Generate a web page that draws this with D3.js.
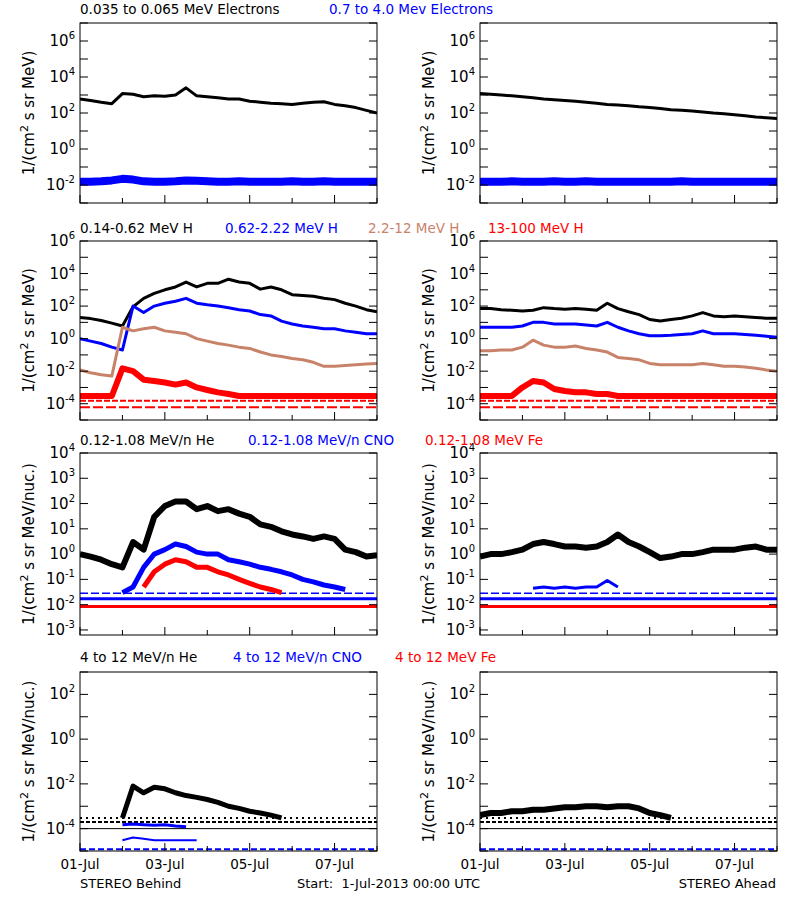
<!DOCTYPE html>
<html>
<head>
<meta charset="utf-8">
<script src="https://cdn.jsdelivr.net/npm/d3@7"></script>
<style>
  body { margin: 0; background: #fff; }
  text { font-family: "DejaVu Sans", sans-serif; }
</style>
</head>
<body>
<svg width="800" height="900"></svg>
<script>
// time axis: days since 1-Jul-2013 00:00, 6 hour steps
const DAYS = d3.range(0, 7.01, 0.25);
const DATE_TICKS = [0, 2, 4, 6];
const DATE_LABELS = ["01-Jul", "03-Jul", "05-Jul", "07-Jul"];

// row 1 electrons
const eLowB = [600,500,400,330,1200,1100,800,900,850,1000,2500,900,800,700,600,600,450,400,350,330,300,350,400,420,300,250,200,140,100];
const eHighB = [0.015,0.015,0.016,0.018,0.022,0.02,0.016,0.015,0.015,0.016,0.018,0.017,0.016,0.015,0.015,0.016,0.015,0.015,0.015,0.015,0.016,0.015,0.015,0.016,0.015,0.015,0.015,0.015,0.015];
const eLowA = [1200,1100,1000,900,800,700,600,550,500,450,400,350,300,280,250,220,200,180,150,140,130,115,100,90,80,70,60,55,50];
const eHighA = [0.015,0.015,0.015,0.016,0.015,0.015,0.015,0.016,0.015,0.015,0.016,0.015,0.015,0.015,0.015,0.015,0.015,0.015,0.015,0.016,0.015,0.015,0.015,0.015,0.015,0.015,0.015,0.015,0.015];

// row 2 protons
const h1B = [20,17,13,9,6,90,300,600,1000,1500,3000,1500,2500,2500,4500,3000,2500,1100,1500,1000,500,450,400,300,250,150,100,60,45];
const h2B = [1,0.7,0.5,0.3,0.2,100,40,100,150,200,300,150,120,100,80,60,50,30,25,12,8,6,5,4,4,3,2.5,2,2];
const h3B = [0.012,0.008,0.006,0.005,5,3,4,5,3,2.5,2,1,0.7,0.5,0.4,0.3,0.25,0.15,0.1,0.08,0.06,0.05,0.035,0.02,0.02,0.022,0.025,0.028,0.03];
const h4B = [3e-4,3e-4,3e-4,3e-4,1.5e-2,1e-2,3e-3,2.5e-3,2e-3,1.5e-3,2e-3,1e-3,7e-4,5e-4,4e-4,3e-4,3e-4,3e-4,3e-4,3e-4,3e-4,3e-4,3e-4,3e-4,3e-4,3e-4,3e-4,3e-4,3e-4];
const h1A = [70,70,60,55,50,55,80,70,65,70,65,55,150,70,45,30,15,12,15,18,25,40,25,22,25,22,20,18,18];
const h2A = [5,5,5,5,6,10,10,8,8,8,7,6,10,5,3,2,1.5,1.5,1.6,1.8,2,3,2,2,2,1.8,1.6,1.4,1.2];
const h3A = [0.18,0.18,0.2,0.2,0.3,0.8,0.4,0.3,0.3,0.35,0.25,0.2,0.15,0.07,0.06,0.05,0.03,0.025,0.025,0.025,0.025,0.03,0.025,0.02,0.02,0.018,0.015,0.012,0.01];
const h4A = [3e-4,3e-4,3e-4,3e-4,1e-3,2.5e-3,2e-3,8e-4,6e-4,5e-4,5e-4,4e-4,4e-4,3e-4,3e-4,3e-4,3e-4,3e-4,3e-4,3e-4,3e-4,3e-4,3e-4,3e-4,3e-4,3e-4,3e-4,3e-4,3e-4];
const FLOOR_H = [1.5e-4, 6e-5];

// row 3 low energy heavy ions
const heB = [1,0.8,0.6,0.4,0.3,3,1.5,30,80,120,120,60,80,50,60,40,30,15,12,8,6,5,4,5,4,1.5,1.2,0.8,0.9];
const cnoB = [null,null,null,null,0.03,0.05,0.3,1,1.5,2.5,2,1.2,1,1,0.6,0.5,0.4,0.3,0.25,0.2,0.15,0.1,0.08,0.06,0.05,0.04,null,null,null];
const feB = [null,null,null,null,null,null,0.05,0.2,0.4,0.6,0.5,0.3,0.3,0.2,0.15,0.1,0.07,0.05,0.04,0.03,null,null,null,null,null,null,null,null,null];
const heA = [0.8,1,1,1.2,1.5,2.5,3,2.5,2,2,1.8,2,3,6,3,2,1.2,0.7,0.8,1,1,1.2,1.5,1.5,1.5,1.8,2,1.5,1.5];
const cnoA = [null,null,null,null,null,0.045,0.05,0.045,0.05,0.045,0.05,0.05,0.09,0.05,null,null,null,0.05,null,null,null,null,null,null,null,null,null,null,null];
const FLOOR_HEAVY = [0.028, 0.017, 0.0085];

// row 4 high energy heavy ions
const he4B = [null,null,null,null,3e-4,8e-3,4e-3,7e-3,6e-3,4e-3,3e-3,2.5e-3,2e-3,1.5e-3,1e-3,8e-4,6e-4,5e-4,4e-4,3e-4,null,null,null,null,null,null,null,null,null];
const cno4B = [null,null,null,null,1.5e-4,1.6e-4,1.5e-4,1.4e-4,1.5e-4,1.3e-4,1.2e-4,null,null,null,null,null,null,null,null,null,null,null,null,null,null,null,null,null,null];
const cno4Blow = [null,null,null,null,3e-5,4e-5,3.5e-5,3e-5,3e-5,3e-5,3e-5,3e-5,null,null,null,null,null,null,null,null,null,null,null,null,null,null,null,null,null];
const he4A = [4e-4,5e-4,5e-4,6e-4,6e-4,7e-4,7e-4,8e-4,9e-4,9e-4,1e-3,1e-3,9e-4,1e-3,1e-3,8e-4,5e-4,4e-4,3e-4,null,null,null,null,null,null,null,null,null,null];
const FLOOR_HIGH = [3e-4, 2e-4, 1e-4, 1.2e-5];

const BROWN = "#c8826a";
const svg = d3.select("svg");
const COLS = [80, 480], PW = 297;

const ROWS = [
  { top: 23, bot: 203, dom: [1e-3, 1e7], labels: [-2, 0, 2, 4, 6], ylab: "MeV)",
    titleY: 14, titles: [["0.035 to 0.065 MeV Electrons", "#000", 80], ["0.7 to 4.0 Mev Electrons", "#00f", 329]],
    series: [[[eLowB, "#000", 3], [eHighB, "#00f", 8]], [[eLowA, "#000", 3], [eHighA, "#00f", 8]]], floors: [] },
  { top: 241, bot: 420, dom: [1e-5, 1e6], labels: [-4, -2, 0, 2, 4, 6], ylab: "MeV)",
    titleY: 233, titles: [["0.14-0.62 MeV H", "#000", 80], ["0.62-2.22 MeV H", "#00f", 225], ["2.2-12 MeV H", BROWN, 368], ["13-100 MeV H", "#f00", 488]],
    series: [[[h1B, "#000", 3], [h2B, "#00f", 3], [h3B, BROWN, 3], [h4B, "#f00", 6]], [[h1A, "#000", 3], [h2A, "#00f", 3], [h3A, BROWN, 3], [h4A, "#f00", 6]]],
    floors: [[FLOOR_H[0], "#f00", 2, "6,2"], [FLOOR_H[1], "#f00", 2, "10,3"]] },
  { top: 453, bot: 635, dom: [Math.pow(10, -3.2), 1e4], labels: [-3, -2, -1, 0, 1, 2, 3, 4], ylab: "MeV/nuc.)",
    titleY: 445, titles: [["0.12-1.08 MeV/n He", "#000", 80], ["0.12-1.08 MeV/n CNO", "#00f", 248], ["0.12-1.08 MeV Fe", "#f00", 425]],
    series: [[[heB, "#000", 6], [cnoB, "#00f", 5], [feB, "#f00", 5]], [[heA, "#000", 6], [cnoA, "#00f", 3]]],
    floors: [[FLOOR_HEAVY[0], "#00f", 1.5, "8,3"], [FLOOR_HEAVY[1], "#00f", 3, null], [FLOOR_HEAVY[2], "#f00", 3, null]] },
  { top: 672, bot: 851, dom: [1e-5, 1e3], labels: [-4, -2, 0, 2], ylab: "MeV/nuc.)",
    titleY: 662, titles: [["4 to 12 MeV/n He", "#000", 80], ["4 to 12 MeV/n CNO", "#00f", 233], ["4 to 12 MeV Fe", "#f00", 395]],
    series: [[[he4B, "#000", 5], [cno4B, "#00f", 3], [cno4Blow, "#00f", 2]], [[he4A, "#000", 6]]],
    floors: [[FLOOR_HIGH[0], "#000", 2, "2,4"], [FLOOR_HIGH[1], "#000", 2, "4,2"], [FLOOR_HIGH[2], "#000", 1, null], [FLOOR_HIGH[3], "#00f", 2, "6,3"]] }
];

const x = d3.scaleLinear().domain([0, 7]);

ROWS.forEach(row => {
  const y = d3.scaleLog().domain(row.dom).range([row.bot, row.top]);
  row.titles.forEach(t => svg.append("text").attr("x", t[2]).attr("y", row.titleY)
    .attr("font-size", 13.5).attr("fill", t[1]).text(t[0]));

  COLS.forEach((x0, ci) => {
    x.range([x0, x0 + PW]);
    const g = svg.append("g");
    const clip = "clip" + row.top + ci;
    g.append("clipPath").attr("id", clip).append("rect")
      .attr("x", x0).attr("y", row.top).attr("width", PW).attr("height", row.bot - row.top);
    const plot = g.append("g").attr("clip-path", "url(#" + clip + ")");

    row.floors.forEach(f => plot.append("line")
      .attr("x1", x0).attr("x2", x0 + PW).attr("y1", y(f[0])).attr("y2", y(f[0]))
      .attr("stroke", f[1]).attr("stroke-width", f[2]).attr("stroke-dasharray", f[3]));

    const line = d3.line().defined(d => d != null).x((d, i) => x(DAYS[i])).y(d => y(d));
    row.series[ci].forEach(s => plot.append("path").datum(s[0])
      .attr("d", line).attr("fill", "none").attr("stroke", s[1]).attr("stroke-width", s[2])
      .attr("stroke-linejoin", "round"));

    // frame
    g.append("rect").attr("x", x0).attr("y", row.top).attr("width", PW).attr("height", row.bot - row.top)
      .attr("fill", "none").attr("stroke", "#000").attr("stroke-width", 1);

    // y ticks every decade, both sides
    const lo = Math.ceil(Math.log10(row.dom[0]) - 1e-9), hi = Math.floor(Math.log10(row.dom[1]) + 1e-9);
    d3.range(lo, hi + 1).forEach(e => {
      const yy = y(Math.pow(10, e));
      g.append("line").attr("x1", x0).attr("x2", x0 + 8).attr("y1", yy).attr("y2", yy).attr("stroke", "#000");
      g.append("line").attr("x1", x0 + PW - 8).attr("x2", x0 + PW).attr("y1", yy).attr("y2", yy).attr("stroke", "#000");
    });
    row.labels.forEach(e => {
      const t = g.append("text").attr("x", x0 - 5).attr("y", y(Math.pow(10, e)) + 5)
        .attr("text-anchor", "end").attr("font-size", 15);
      t.append("tspan").text("10");
      t.append("tspan").attr("dy", -7).attr("font-size", 10).text(e);
    });

    // x ticks every day
    d3.range(0, 8).forEach(d => {
      g.append("line").attr("x1", x(d)).attr("x2", x(d)).attr("y1", row.bot).attr("y2", row.bot - (d % 2 ? 5 : 8)).attr("stroke", "#000");
    });

    // y axis label
    const yl = g.append("text").attr("transform", "translate(" + (x0 - 46) + "," + ((row.top + row.bot) / 2) + ") rotate(-90)")
      .attr("text-anchor", "middle").attr("font-size", 15);
    yl.append("tspan").text("1/(cm");
    yl.append("tspan").attr("dy", -6).attr("font-size", 11).text("2");
    yl.append("tspan").attr("dy", 6).text(" s sr " + row.ylab);

    if (row === ROWS[ROWS.length - 1]) {
      DATE_TICKS.forEach((d, i) => g.append("text").attr("x", x(d)).attr("y", 869)
        .attr("text-anchor", "middle").attr("font-size", 13.5).text(DATE_LABELS[i]));
    }
  });
});

svg.append("text").attr("x", 80).attr("y", 888).attr("font-size", 13).text("STEREO Behind");
svg.append("text").attr("x", 297).attr("y", 888).attr("font-size", 13).attr("xml:space", "preserve").text("Start:  1-Jul-2013 00:00 UTC");
svg.append("text").attr("x", 776).attr("y", 888).attr("text-anchor", "end").attr("font-size", 13).text("STEREO Ahead");
</script>
</body>
</html>
